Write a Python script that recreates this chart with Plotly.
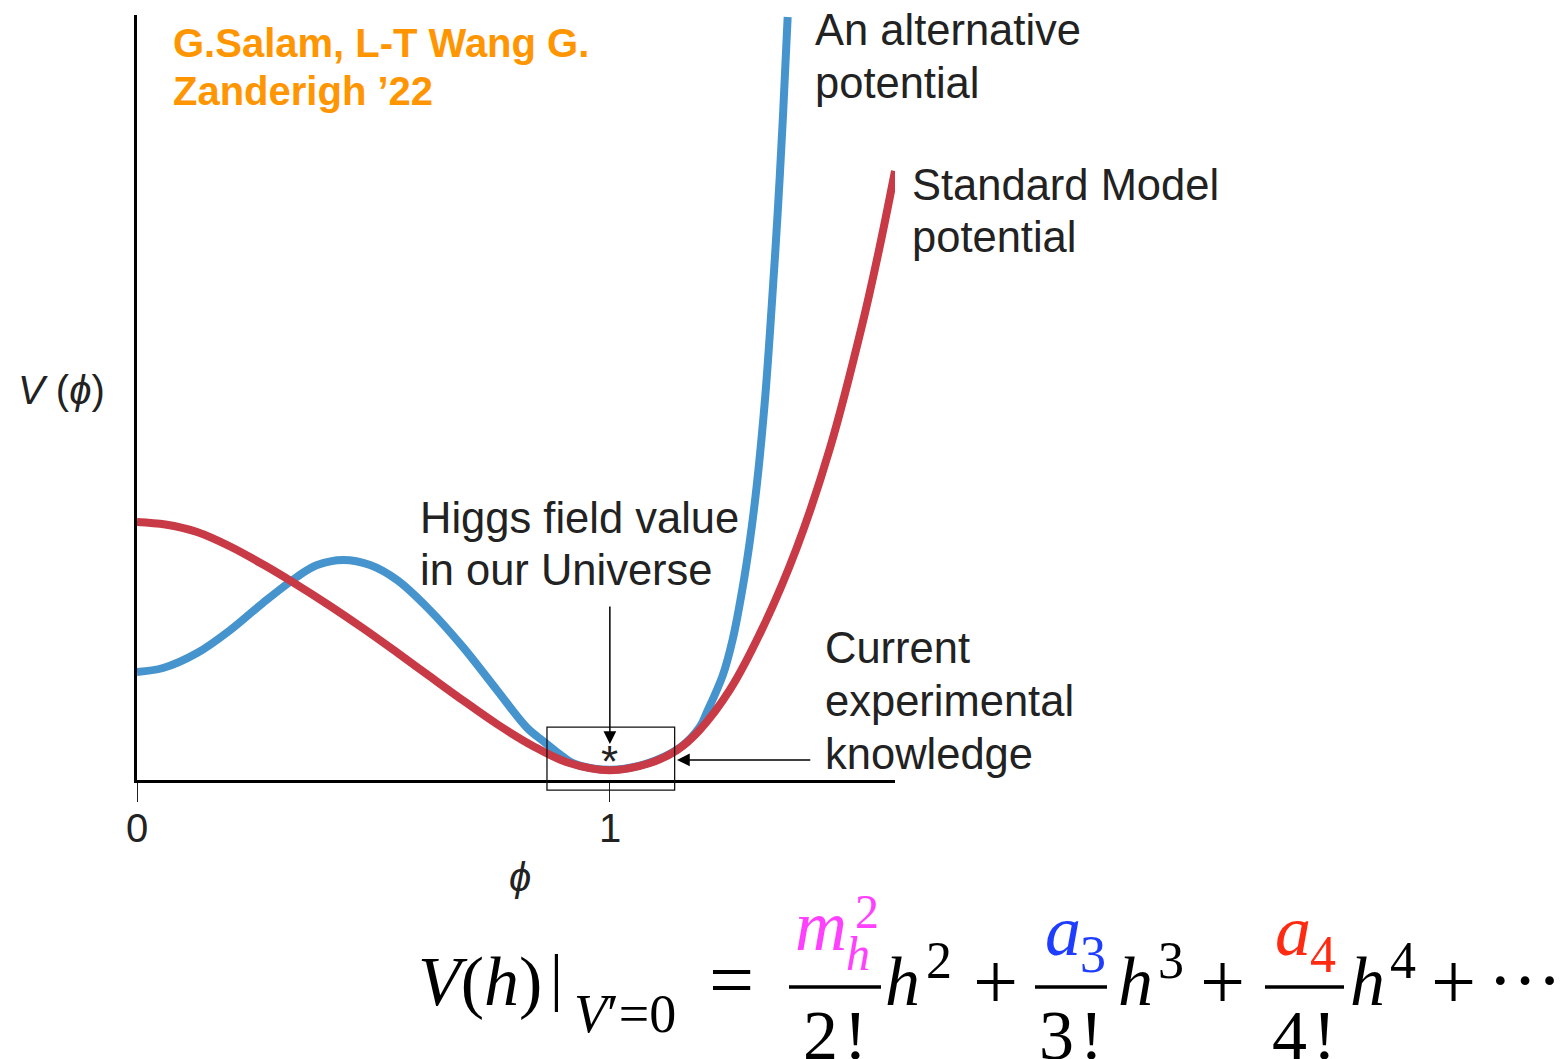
import plotly.graph_objects as go

# Standard Model Higgs potential V(phi), sampled along the field value phi
sm_phi = [0.000, 0.060, 0.127, 0.197, 0.266, 0.330, 0.408, 0.478, 0.550, 0.619,
          0.689, 0.761, 0.837, 0.909, 1.000, 1.085, 1.142, 1.190, 1.254, 1.323,
          1.395, 1.465, 1.535, 1.571, 1.603]
sm_v = [1.000, 0.990, 0.961, 0.905, 0.836, 0.766, 0.675, 0.588, 0.494, 0.402,
        0.309, 0.217, 0.132, 0.069, 0.038, 0.066, 0.116, 0.194, 0.350, 0.589,
        0.899, 1.283, 1.775, 2.070, 2.360]

# An alternative potential with the same minimum at phi = 1
alt_phi = [0.000, 0.055, 0.127, 0.197, 0.266, 0.338, 0.381, 0.436, 0.493, 0.550,
           0.619, 0.689, 0.761, 0.825, 0.861, 0.894, 0.925, 1.000, 1.075, 1.150,
           1.190, 1.205, 1.239, 1.260, 1.281, 1.296, 1.311, 1.328, 1.342, 1.355,
           1.366, 1.376]
alt_v = [0.419, 0.434, 0.492, 0.581, 0.686, 0.787, 0.833, 0.853, 0.833, 0.775,
         0.659, 0.516, 0.349, 0.202, 0.148, 0.100, 0.063, 0.040, 0.062, 0.128,
         0.205, 0.262, 0.407, 0.547, 0.748, 0.926, 1.147, 1.473, 1.829, 2.202,
         2.570, 2.957]

tick_vals = [0, 1]
tick_text = ["0", "1"]

# field value in our Universe and the window of current knowledge around it
vev_phi = 1.0
knowledge_phi = [0.867, 1.137]
knowledge_v = [-0.039, 0.205]

W, H = 1561, 1059
ML, MR, MT, MB = 137, 666, 15, 279
PW = W - ML - MR
PH = H - MT - MB
X_RANGE = [0, 1.603]
Y_RANGE = [0, 2.965]

SANS = "Liberation Sans"
SERIF = "Liberation Serif"
INK = "#222222"
BLUE = "#4694CD"
RED = "#C83A45"
ORANGE = "#FF9500"
LABEL = 43.5


def px_x(px):
    return (px - ML) / PW


def px_y(py):
    return (H - MB - py) / PH


def dx(phi):
    return (phi - X_RANGE[0]) / (X_RANGE[1] - X_RANGE[0])


def dy(v):
    return (v - Y_RANGE[0]) / (Y_RANGE[1] - Y_RANGE[0])


fig = go.Figure()
fig.add_trace(go.Scatter(x=alt_phi, y=alt_v, mode="lines",
                         line=dict(color=BLUE, width=8, shape="spline", smoothing=1.0),
                         cliponaxis=False, hoverinfo="skip"))
fig.add_trace(go.Scatter(x=sm_phi, y=sm_v, mode="lines",
                         line=dict(color=RED, width=8, shape="spline", smoothing=1.0),
                         cliponaxis=False, hoverinfo="skip"))

annotations = []


def text(t, x, y, size, font=SANS, color=INK, anchor="left"):
    annotations.append(dict(text=t, x=px_x(x), y=px_y(y), xref="paper", yref="paper",
                            xanchor=anchor, yanchor="middle", showarrow=False,
                            font=dict(family=font, size=size, color=color)))


def serif(t, x, baseline, size, color="#000000", anchor="left"):
    text(t, x, baseline - 0.3375 * size, size, font=SERIF, color=color, anchor=anchor)


# labels
text("<b>G.Salam, L-T Wang G.</b>", 171, 43, 40, color=ORANGE)
text("<b>Zanderigh ’22</b>", 171, 91, 40, color=ORANGE)
text("An alternative", 813, 30, LABEL)
text("potential", 813, 83, LABEL)
text("Standard Model", 910, 185, LABEL)
text("potential", 910, 237, LABEL)
text("Higgs field value", 418, 518, LABEL)
text("in our Universe", 418, 570, LABEL)
text("Current", 823, 648, LABEL)
text("experimental", 823, 701, LABEL)
text("knowledge", 823, 754, LABEL)
text("<i>V</i> (<i>ϕ</i>)", 16, 390, 40)
text("<i>ϕ</i>", 520, 877, 40, anchor="center")

# tick labels of the phi axis
for v, t in zip(tick_vals, tick_text):
    annotations.append(dict(text=t, x=v, y=px_y(828), xref="x", yref="paper",
                            xanchor="center", yanchor="middle", showarrow=False,
                            font=dict(family=SANS, size=40, color=INK)))

# marker of the field value, arrows
annotations.append(dict(text="*", x=vev_phi, y=min(sm_v), xref="x", yref="y",
                        xanchor="center", yanchor="bottom", yshift=-18, showarrow=False,
                        font=dict(family=SANS, size=44, color=INK)))
annotations.append(dict(text="", x=vev_phi, y=0.140, ax=vev_phi, ay=0.678,
                        xref="x", yref="y", axref="x", ayref="y", showarrow=True,
                        arrowhead=2, arrowsize=1.7, arrowwidth=1.5, arrowcolor="#000"))
annotations.append(dict(text="", x=knowledge_phi[1] + 0.005, y=0.078, ax=1.427, ay=0.078,
                        xref="x", yref="y", axref="x", ayref="y", showarrow=True,
                        arrowhead=2, arrowsize=1.7, arrowwidth=1.5, arrowcolor="#000"))

# the expansion of the potential around its minimum
MAG, ABLUE, ARED = "#FF40FF", "#1F3DFF", "#FF2A12"
SMALL = 52
serif("<i>V</i>(<i>h</i>)", 416, 1005, 70)
serif("|", 556, 998, 64, anchor="center")
serif("<i>V</i>′=0", 572, 1032, 54)
serif("=", 731, 1007, 80, anchor="center")
serif("<i>m</i>", 793, 950, 72, color=MAG)
serif("<i>h</i>", 844, 970, 48, color=MAG)
serif("2", 853, 928, 48, color=MAG)
serif("2\u200a!", 835, 1059, 70, anchor="center")
serif("<i>h</i>", 883, 1005, 70)
serif("2", 924, 978, SMALL)
serif("+", 995, 1009, 80, anchor="center")
serif("<i>a</i>", 1043, 955, 72, color=ABLUE)
serif("3", 1078, 972, SMALL, color=ABLUE)
serif("3\u200a!", 1071, 1059, 70, anchor="center")
serif("<i>h</i>", 1116, 1005, 70)
serif("3", 1156, 978, SMALL)
serif("+", 1222, 1009, 80, anchor="center")
serif("<i>a</i>", 1273, 955, 72, color=ARED)
serif("4", 1308, 972, SMALL, color=ARED)
serif("4\u200a!", 1304, 1059, 70, anchor="center")
serif("<i>h</i>", 1348, 1005, 70)
serif("4", 1388, 978, SMALL)
serif("+", 1453, 1009, 80, anchor="center")
serif("···", 1525, 1005, 74, anchor="center")

shapes = [
    dict(type="rect", xref="paper", yref="paper",
         x0=dx(knowledge_phi[0]), x1=dx(knowledge_phi[1]),
         y0=dy(knowledge_v[0]), y1=dy(knowledge_v[1]),
         line=dict(color="#111", width=1.3), fillcolor="rgba(0,0,0,0)"),
]
for x0, x1 in [(789, 881), (1035, 1107), (1265, 1344)]:
    shapes.append(dict(type="line", xref="paper", yref="paper",
                       x0=px_x(x0), x1=px_x(x1), y0=px_y(987), y1=px_y(987),
                       line=dict(color="#000", width=3.5)))

fig.update_layout(
    width=W, height=H,
    margin=dict(l=ML, r=MR, t=MT, b=MB, pad=0),
    paper_bgcolor="white", plot_bgcolor="white",
    showlegend=False, hovermode=False,
    annotations=annotations, shapes=shapes,
    xaxis=dict(range=X_RANGE, showline=True, linewidth=3, linecolor="#000",
               showgrid=False, zeroline=False, ticks="outside", ticklen=19,
               tickwidth=1.4, tickcolor="#222", tickvals=tick_vals,
               showticklabels=False, fixedrange=True),
    yaxis=dict(range=Y_RANGE, showline=True, linewidth=3, linecolor="#000",
               showgrid=False, zeroline=False, showticklabels=False, ticks="",
               fixedrange=True),
)

fig.write_html("out.html", config={"displayModeBar": False})
